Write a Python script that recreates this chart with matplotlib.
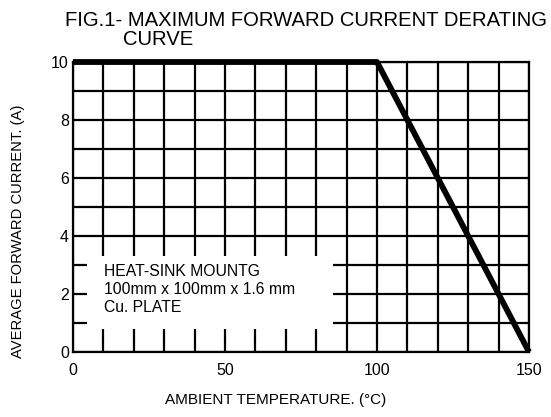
import matplotlib
matplotlib.use("Agg")
import matplotlib.pyplot as plt
from matplotlib.patches import Rectangle

plt.rcParams['font.family'] = ['Liberation Sans', 'DejaVu Sans']

# derating curve
temps = [0, 100, 150]
current = [10, 10, 0]

x_grid = list(range(0, 151, 10))
x_labels = ['0', '', '', '', '', '50', '', '', '', '', '100', '', '', '', '', '150']
y_grid = list(range(0, 11))
y_labels = ['0', '', '2', '', '4', '', '6', '', '8', '', '10']

note = ['HEAT-SINK MOUNTG', '100mm x 100mm x 1.6 mm', 'Cu. PLATE']

W, H = 551, 417
fig = plt.figure(figsize=(W / 100, H / 100), dpi=100)
ax = fig.add_axes([73 / W, 1 - 352 / H, 456 / W, 290 / H])

ax.set_xlim(0, 150)
ax.set_ylim(0, 10)
ax.set_xticks(x_grid)
ax.set_xticklabels(x_labels)
ax.set_yticks(y_grid)
ax.set_yticklabels(y_labels)
ax.tick_params(length=0, labelsize=11.5)
ax.tick_params(axis='x', pad=8)
ax.tick_params(axis='y', pad=3)
ax.set_axisbelow(True)
ax.grid(True, color='black', lw=1.6)
for s in ax.spines.values():
    s.set_linewidth(1.6)

# white box for the mounting note
ax.add_patch(Rectangle((4.5, 0.8), 81, 2.5, facecolor='white', edgecolor='none', zorder=2))
for i, t in enumerate(note):
    ax.text(10.2, 2.76 - i * 0.62, t, fontsize=11.3, va='center', ha='left', zorder=4)

ax.plot(temps, current, color='black', lw=4.2, solid_capstyle='butt', zorder=3, clip_on=False)

fig.text(65 / W, 1 - 11 / H, 'FIG.1- MAXIMUM FORWARD CURRENT DERATING', fontsize=14.6, va='top', ha='left')
fig.text(123 / W, 1 - 30 / H, 'CURVE', fontsize=14.6, va='top', ha='left')
fig.text(276 / W, 1 - 400 / H, 'AMBIENT TEMPERATURE. (\u00b0C)', fontsize=11, ha='center', va='center')
fig.text(18 / W, 1 - 231 / H, 'AVERAGE FORWARD CURRENT. (A)', fontsize=10.6, ha='center', va='center', rotation=90)

fig.savefig('out.png', dpi=100)
